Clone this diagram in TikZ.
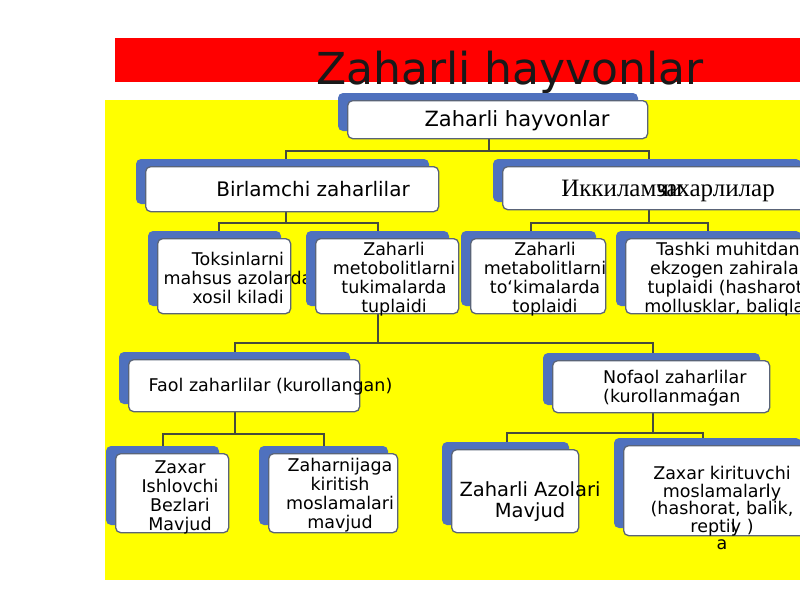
\documentclass[tikz,border=0pt]{standalone}
\usepackage{fontspec}
\setmainfont{DejaVu Sans}
\newfontfamily\serifcyr{Liberation Serif}
\pgfdeclarelayer{back}
\pgfdeclarelayer{lines}
\pgfsetlayers{back,lines,main}
\definecolor{shblue}{RGB}{79,113,190}
\definecolor{cardline}{RGB}{90,100,120}
\definecolor{connc}{RGB}{70,75,60}
\definecolor{bgyellow}{RGB}{255,255,0}
\definecolor{bgred}{RGB}{255,0,0}
\tikzset{
  shadowbox/.style={fill=shblue, rounded corners=5pt},
  card/.style={draw=cardline, line width=1.3pt, fill=white, rounded corners=5pt, inner sep=0pt},
  conn/.style={draw=connc, line width=1.7pt},
  txt/.style={font=\fontsize{17.5}{19}\selectfont, align=center, inner sep=0pt, text=black},
  bigtxt/.style={font=\fontsize{20}{22}\selectfont, inner sep=0pt, text=black},
}
\newcommand\cardbox[5]{%
  \fill[shadowbox] (#2-9,#3-7) rectangle (#4-9,#5-7);
  \node[card, anchor=north west, minimum width=#4-#2, minimum height=#5-#3] (#1) at (#2,#3) {};}
\begin{document}
\begin{tikzpicture}[x=1pt,y=-1pt]
\useasboundingbox (0,0) rectangle (800,600);
\begin{pgfonlayer}{back}
  \fill[white] (0,0) rectangle (800,600);
  \fill[bgyellow] (105,100) rectangle (800,580);
  \fill[bgred] (115,38) rectangle (800,82);
\end{pgfonlayer}
\node[font=\fontsize{44}{50}\selectfont, anchor=base, inner sep=0pt, text=black!90] (title) at (510,84) {Zaharli hayvonlar};

% boxes
\cardbox{top}{347}{100}{647}{138}
\node[bigtxt, font=\fontsize{21}{23}\selectfont] (topt) at (517,121) {Zaharli hayvonlar};

\cardbox{bir}{145}{166}{438}{211}
\node[bigtxt] (birt) at (313,189) {Birlamchi zaharlilar};

\cardbox{ikk}{502}{166}{810}{209}
\node[bigtxt, font=\serifcyr\fontsize{25}{27}\selectfont] (ikkt) at (668,191) {Иккилам\rlap{чи}захарлилар};

\cardbox{tok}{157}{238}{290}{313}
\node[txt] (tokt) at (238,278) {Toksinlarni\\mahsus azolarda\\xosil kiladi};

\cardbox{zmo}{315}{238}{458}{313}
\node[txt] (zmot) at (394,279) {Zaharli\\metobolitlarni\\tukimalarda\\tuplaidi};

\cardbox{zma}{470}{238}{605}{313}
\node[txt] (zmat) at (545,279) {Zaharli\\metabolitlarni\\toʻkimalarda\\toplaidi};

\cardbox{tas}{625}{238}{810}{313}
\node[txt] (tast) at (728,279) {Tashki muhitdan\\ekzogen zahiralar\\tuplaidi (hasharot,\\mollusklar, baliqlar};

\cardbox{faol}{128}{359}{359}{411}
\node[txt] (faolt) at (270.5,387) {Faol zaharlilar (kurollangan)};

\cardbox{nof}{552}{360}{769}{412}
\node[txt, align=left, anchor=west] (noft) at (603,388) {Nofaol zaharlilar\\(kurollanmaǵan};

\cardbox{zax}{115}{453}{228}{532}
\node[txt] (zaxt) at (180,497) {Zaxar\\Ishlovchi\\Bezlari\\Mavjud};

\cardbox{zhj}{268}{453}{397}{532}
\node[txt] (zhjt) at (340,495) {Zaharnijaga\\kiritish\\moslamalari\\mavjud};

\cardbox{zaz}{451}{449}{578}{532}
\node[txt, font=\fontsize{19.5}{21}\selectfont] (zazt) at (530,502) {Zaharli Azolari\\Mavjud};

\cardbox{zkm}{623}{445}{810}{535}
\node[txt, font=\fontsize{17.5}{17.5}\selectfont] (zkmt) at (722,508) {Zaxar kirituvchi\\moslamalar\rlap{i}ly\\(hashorat, balik,\\repti\rlap{l}y )\\a};

% connectors
\begin{pgfonlayer}{lines}
  \draw[conn] ([xshift=-9pt]top.south) -- ++(0,12) -| ([xshift=-6.5pt]bir.north);
  \draw[conn] ([xshift=-9pt]top.south) -- ++(0,12) -| ([xshift=-8pt]ikk.north);
  \draw[conn] ([xshift=-6.5pt]bir.south) -- ++(0,11) -| ([xshift=-5.5pt]tok.north);
  \draw[conn] ([xshift=-6.5pt]bir.south) -- ++(0,11) -| ([xshift=-9.5pt]zmo.north);
  \draw[conn] ([xshift=-8pt]ikk.south) -- ++(0,13) -| ([xshift=-7.5pt]zma.north);
  \draw[conn] ([xshift=-8pt]ikk.south) -- ++(0,13) -| ([xshift=-10.5pt]tas.north);
  \draw[conn] ([xshift=-9.5pt]zmo.south) -- ++(0,29) -| ([xshift=-9.5pt]faol.north);
  \draw[conn] ([xshift=-9.5pt]zmo.south) -- ++(0,29) -| ([xshift=-8.5pt]nof.north);
  \draw[conn] ([xshift=-9.5pt]faol.south) -- ++(0,22) -| ([xshift=-9.5pt]zax.north);
  \draw[conn] ([xshift=-9.5pt]faol.south) -- ++(0,22) -| ([xshift=-9.5pt]zhj.north);
  \draw[conn] ([xshift=-8.5pt]nof.south) -- ++(0,20) -| ([xshift=-8.5pt]zaz.north);
  \draw[conn] ([xshift=-8.5pt]nof.south) -- ++(0,20) -| ([xshift=-14.5pt]zkm.north);
\end{pgfonlayer}
\end{tikzpicture}
\end{document}
